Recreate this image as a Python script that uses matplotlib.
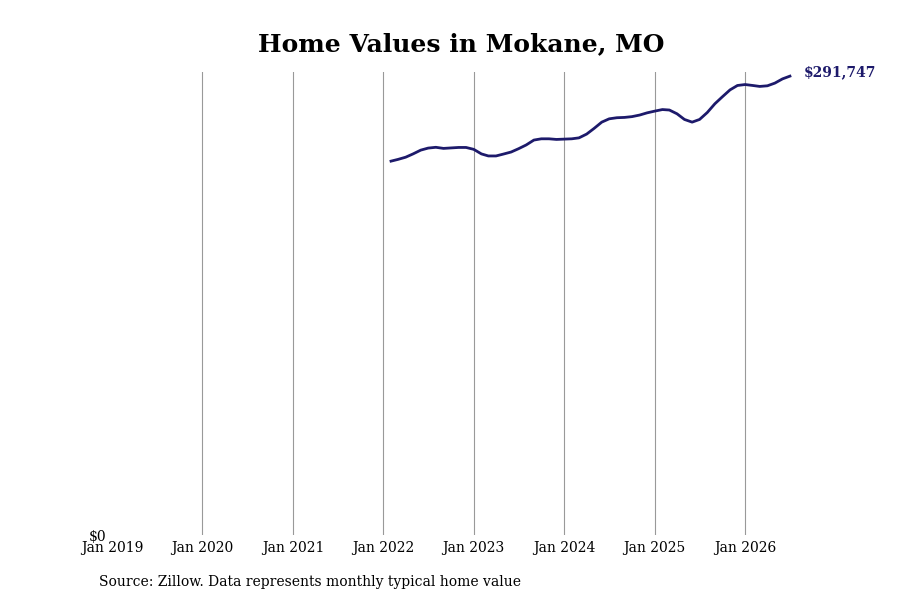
import numpy as np
import pandas as pd
import matplotlib
matplotlib.use("Agg")
import matplotlib.pyplot as plt
import matplotlib.dates as mdates
from matplotlib.ticker import FuncFormatter

# --- DATA ---
start_month = "2022-02-01"
home_values = [
    237700, 238800, 240200, 242300, 244700, 246000, 246500, 245800, 246100, 246400, 246400,
    245200, 242300, 241000, 241000, 242200, 243500, 245600, 248000, 251100, 251900, 251900,
    251500, 251700, 251900, 252500, 254900, 258500, 262500, 264600, 265300, 265500, 266000,
    267000, 268400, 269500, 270500, 270200, 267800, 264200, 262500, 264200, 268600, 274200,
    278600, 283000, 285800, 286400, 285800, 285200, 285600, 287300, 290000, 291747,
]
dates = pd.date_range(start_month, periods=len(home_values), freq="MS")
tick_years = pd.date_range("2019-01-01", "2026-01-01", freq="YS")

title = "Home Values in Mokane, MO"
source = "Source: Zillow. Data represents monthly typical home value"
line_color = "#1d1a6b"

plt.rcParams["font.family"] = "DejaVu Serif"

fig = plt.figure(figsize=(9, 6), dpi=100)
ax = fig.add_axes([0.1244, 0.1083, 0.9 - 0.1244, 0.88 - 0.1083])

ax.plot(dates, home_values, color=line_color, lw=2)

ax.set_xlim(pd.Timestamp("2019-01-01"), pd.Timestamp("2026-09-20"))
ax.set_ylim(0, max(home_values) * 1.009)

ax.set_xticks(tick_years)
ax.xaxis.set_major_formatter(mdates.DateFormatter("%b %Y"))
ax.set_yticks([0])
ax.yaxis.set_major_formatter(FuncFormatter(lambda v, p: f"${v:,.0f}"))
ax.tick_params(axis="both", length=0, labelsize=10)
ax.tick_params(axis="x", pad=4)
ax.tick_params(axis="y", pad=4)

ax.grid(axis="x", color="#999999", lw=0.8)
ax.xaxis.get_gridlines()[0].set_visible(False)
for s in ax.spines.values():
    s.set_visible(False)

ax.annotate(f"${home_values[-1]:,}", xy=(dates[-1], home_values[-1]),
            xytext=(10, 3), textcoords="offset points",
            color=line_color, fontsize=10, fontweight="bold", va="center")

fig.text(0.512, 0.926, title, ha="center", va="center", fontsize=18, fontweight="bold")
fig.text(0.11, 0.03, source, ha="left", va="center", fontsize=10)

fig.savefig("out.png", dpi=100)
